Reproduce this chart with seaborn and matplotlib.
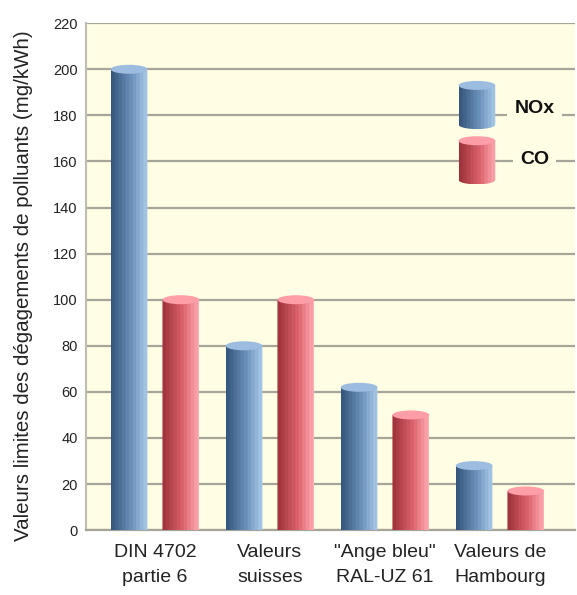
import numpy as np
import pandas as pd
import matplotlib
matplotlib.use("Agg")
import matplotlib.pyplot as plt
import seaborn as sns
from matplotlib.patches import Ellipse, PathPatch
from matplotlib.path import Path
from matplotlib.colors import to_rgb

# Emission limit values (mg/kWh)
categories = ["DIN 4702\npartie 6", "Valeurs\nsuisses", "\"Ange bleu\"\nRAL-UZ 61", "Valeurs de\nHambourg"]
nox_values = [200, 80, 62, 28]
co_values = [100, 100, 50, 17]
series_names = ["NOx", "CO"]
y_ticks = list(range(0, 221, 20))

df = pd.DataFrame({
    "cat": categories * 2,
    "val": nox_values + co_values,
    "pol": [series_names[0]] * len(categories) + [series_names[1]] * len(categories),
})

BG = "#fffde3"
GRID = "#a6a59a"
SHADES = {
    "NOx": dict(dark="#34557a", mid="#6b91ba", light="#aacbea", cap="#9dbde0"),
    "CO": dict(dark="#9c3038", mid="#d9616b", light="#ffa9b0", cap="#ff9ea6"),
}

sns.set_theme(style="white")
plt.rcParams["font.family"] = ["Liberation Sans", "DejaVu Sans"]

fig = plt.figure(figsize=(5.77, 5.95), dpi=100)
ax = fig.add_axes([0.149, 0.109, 0.847, 0.852])
ax.set_facecolor(BG)

sns.barplot(data=df, x="cat", y="val", hue="pol", hue_order=series_names,
            palette=[SHADES[s]["mid"] for s in series_names],
            width=0.9, gap=0.29, ax=ax, legend=False)

ax.set_xlim(-0.6, 3.65)
ax.set_ylim(0, 220)

# pixel -> data scale helpers for cylinder caps
fig.canvas.draw()
px_per_unit_y = ax.bbox.height / 220.0
cap_h = 9.0 / px_per_unit_y


def stripe_gradient(shade, n=40):
    dark, mid, light = (np.array(to_rgb(shade[k])) for k in ("dark", "mid", "light"))
    t = np.linspace(0, 1, n)
    cols = []
    for v in t:
        if v < 0.55:
            c = dark + (mid - dark) * (v / 0.55)
        else:
            c = mid + (light - mid) * ((v - 0.55) / 0.45)
        # faint vertical ribbing
        c = c * (1 + 0.035 * np.sin(v * n * 1.6))
        cols.append(np.clip(c, 0, 1))
    return np.array(cols)[None, :, :]


def cylinder(ax, x0, w, y0, h, shade, z=3):
    grad = stripe_gradient(shade)
    half = cap_h / 2
    # body outline: straight sides with a rounded base
    theta = np.linspace(np.pi, 2 * np.pi, 40)
    xc = x0 + w / 2
    base_x = xc + (w / 2) * np.cos(theta)
    base_y = y0 + half * np.sin(theta)
    verts = [(x0, y0 + h)] + list(zip(base_x, base_y)) + [(x0 + w, y0 + h), (x0, y0 + h)]
    clip = PathPatch(Path(verts), transform=ax.transData, facecolor="none", edgecolor="none")
    ax.add_patch(clip)
    im = ax.imshow(grad, extent=(x0, x0 + w, y0 - half, y0 + h), aspect="auto",
                   interpolation="bilinear", zorder=z)
    im.set_clip_box(None)
    im.set_clip_path(clip)
    ax.add_patch(Ellipse((xc, y0 + h), w, cap_h, facecolor=shade["cap"],
                         edgecolor="none", zorder=z + 0.1, clip_on=False))


bars = [p for p in ax.patches if p.get_height() > 0]
n_cat = len(categories)
for i, bar in enumerate(bars):
    pol = series_names[i // n_cat]
    bar.set_visible(False)
    cylinder(ax, bar.get_x(), bar.get_width(), 0, bar.get_height(), SHADES[pol])

# legend drawn as small cylinders
bw = bars[0].get_width()
leg_x = 2.8 - bw / 2
cylinder(ax, leg_x, bw, 176.0, 17.0, SHADES["NOx"], z=4)
cylinder(ax, leg_x, bw, 152.0, 17.0, SHADES["CO"], z=4)
for label, ly in zip(series_names, [182.8, 161.0]):
    ax.text(3.30, ly, label, ha="center", va="center", fontsize=14, fontweight="bold",
            color="#111111", zorder=5,
            bbox=dict(facecolor=BG, edgecolor="none", pad=5))

ax.set_yticks(y_ticks)
ax.set_yticklabels([str(v) for v in y_ticks], fontsize=10.5, color="#222222")
ax.tick_params(axis="x", labelsize=14, colors="#222222", length=0, pad=10)
for t in ax.get_xticklabels():
    t.set_linespacing(1.6)
ax.tick_params(axis="y", length=0, pad=6)
ax.set_axisbelow(True)
ax.yaxis.grid(True, color=GRID, linewidth=1.6)
ax.xaxis.grid(False)
ax.set_xlabel("")
ax.set_ylabel("Valeurs limites des dégagements de polluants (mg/kWh)", fontsize=14.8,
              color="#222222", labelpad=4)
ax.yaxis.set_label_coords(-0.108, 0.482)
for s in ["top", "right"]:
    ax.spines[s].set_visible(False)
ax.spines["left"].set_color("#bdbdb5")
ax.spines["left"].set_linewidth(1.5)
ax.spines["bottom"].set_color(GRID)
ax.spines["bottom"].set_linewidth(1.6)

fig.savefig("out.png", dpi=100, facecolor="white")
